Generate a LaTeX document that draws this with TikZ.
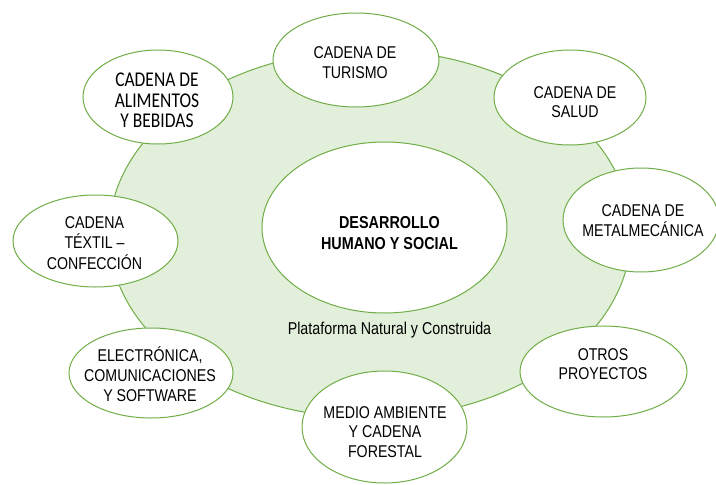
\documentclass[tikz,border=0pt]{standalone}
\usepackage{graphicx}
\usepackage{fontspec}
\setmainfont{Liberation Sans}
\newfontfamily\calibrifont{Carlito}
\usetikzlibrary{shapes.geometric}
\definecolor{ringfill}{HTML}{E2EFDA}
\definecolor{ringline}{HTML}{70AD47}
\newcommand\tallbox[1]{\scalebox{1}[1.2]{\begin{tabular}{@{}c@{}}#1\end{tabular}}}
\begin{document}
\begin{tikzpicture}[x=1pt,y=-1pt,
  bubble/.style={ellipse, draw=ringline, line width=1pt, fill=white, inner sep=0pt},
  txt/.style={inner sep=0pt, yshift=-2pt, font=\fontsize{14.2}{16.5}\selectfont},
  caltxt/.style={inner sep=0pt, yshift=-2pt, font=\calibrifont\fontsize{17.5}{16.8}\selectfont}]
\useasboundingbox (0,0) rectangle (716,485);
% platform
\node[ellipse, draw=ringline, fill=ringfill, line width=1pt, inner sep=0pt,
      minimum width=522, minimum height=368] (plat) at (370,234) {};
\node[bubble, minimum width=245, minimum height=171] (dhs) at (384.5,227.5) {};
\node[txt, font=\bfseries\fontsize{14.4}{16.8}\selectfont] (dhs-t) at (389.5,233) {\tallbox{DESARROLLO\\HUMANO Y SOCIAL}};
\node[txt, font=\fontsize{14.3}{16}\selectfont] (plat-t) at (389.5,329) {\tallbox{Plataforma Natural y Construida}};
% chains
\node[bubble, minimum width=166, minimum height=94] (tur) at (356,60) {};
\node[txt] (tur-t) at (355,62.5) {\tallbox{CADENA DE\\TURISMO}};
\node[bubble, minimum width=152, minimum height=95] (sal) at (570,97.5) {};
\node[txt] (sal-t) at (575,102) {\tallbox{CADENA DE\\SALUD}};
\node[bubble, minimum width=156, minimum height=104] (met) at (641,220) {};
\node[txt] (met-t) at (643,220.5) {\tallbox{CADENA DE\\METALMECÁNICA}};
\node[bubble, minimum width=167, minimum height=91] (otr) at (603.5,371.5) {};
\node[txt] (otr-t) at (603,364) {\tallbox{OTROS\\PROYECTOS}};
\node[bubble, minimum width=165, minimum height=112] (med) at (384.5,427) {};
\node[txt] (med-t) at (385,432) {\tallbox{MEDIO AMBIENTE\\Y CADENA\\FORESTAL}};
\node[bubble, minimum width=164, minimum height=90] (ele) at (151,373) {};
\node[txt] (ele-t) at (150,375) {\tallbox{ELECTRÓNICA,\\COMUNICACIONES\\Y SOFTWARE}};
\node[bubble, minimum width=165, minimum height=92] (tex) at (95.5,241) {};
\node[txt] (tex-t) at (94.5,243) {\tallbox{CADENA\\TÉXTIL –\\CONFECCIÓN}};
\node[bubble, minimum width=150, minimum height=94] (ali) at (158,97) {};
\node[caltxt] (ali-t) at (157,101) {\tallbox{CADENA DE\\ALIMENTOS\\Y BEBIDAS}};
\end{tikzpicture}
\end{document}
